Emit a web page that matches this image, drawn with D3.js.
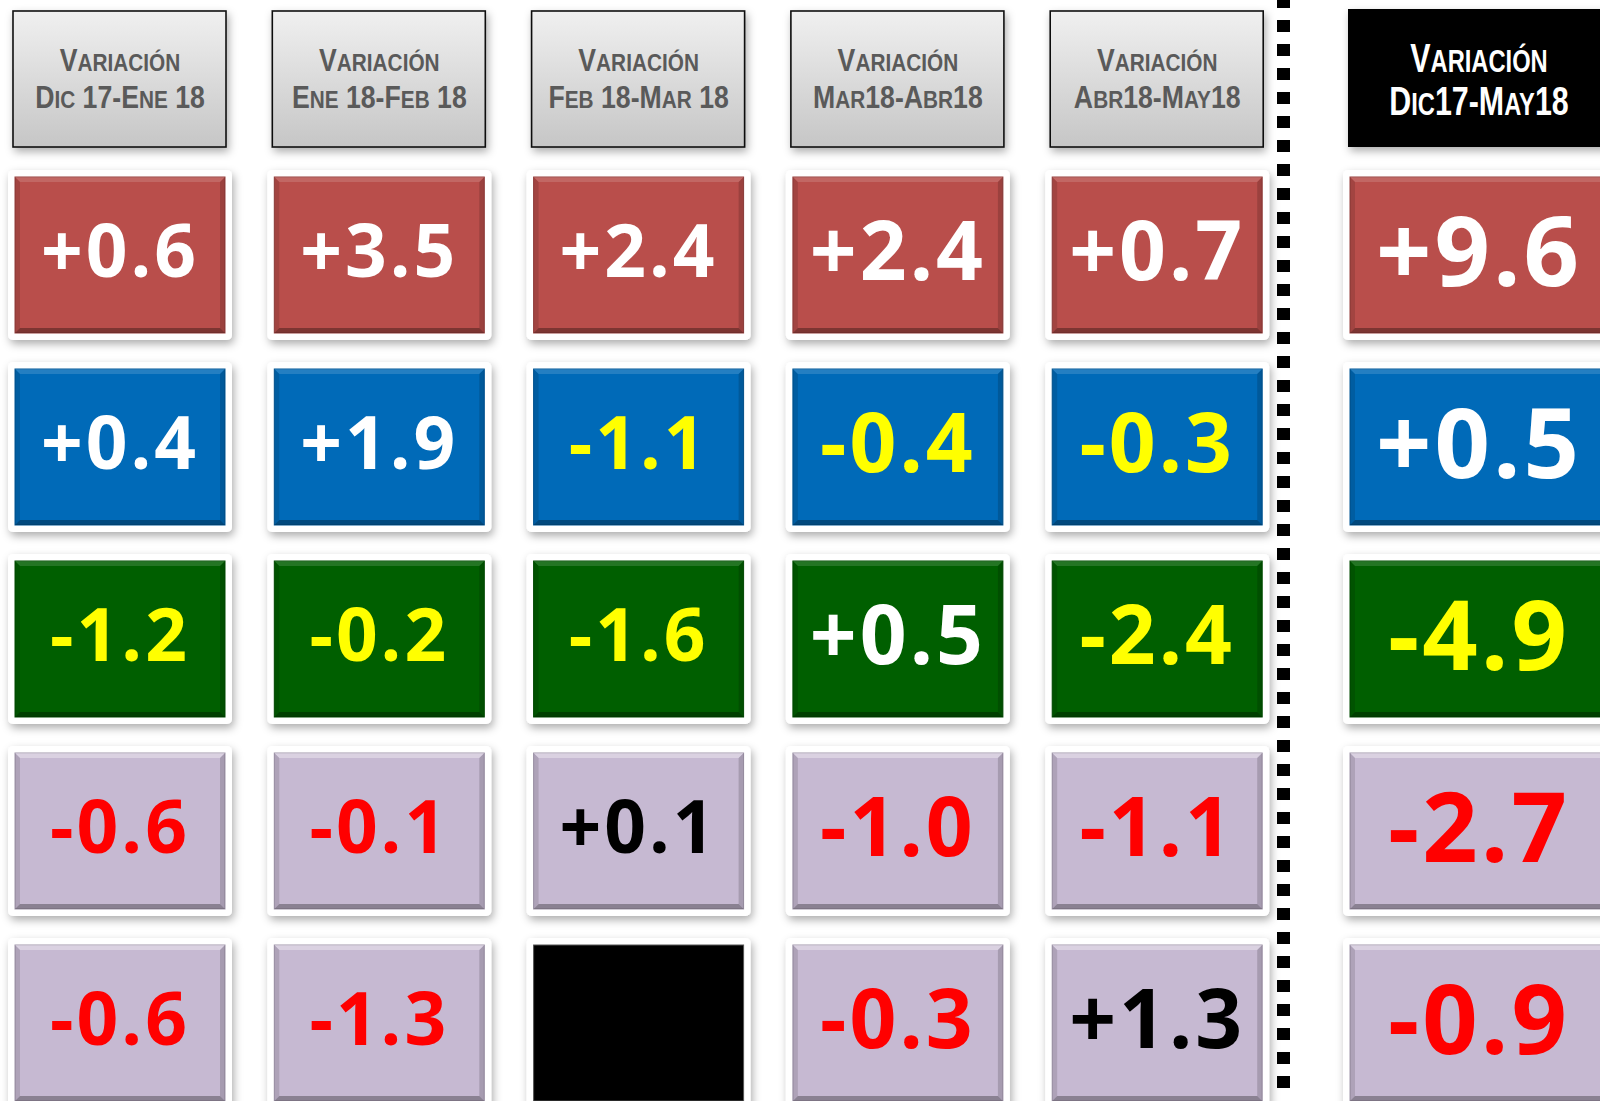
<html>
  <head>
    <meta charset="utf-8" />
    <title>Variaciones</title>
    <script src="https://d3js.org/d3.v7.min.js"></script>
    <style>
      body {
        margin: 0;
        background: #ffffff;
      }
    </style>
  </head>
  <body>
    <svg id="chart"></svg>
    <script>

      // periods (column headers) and the total column
      var periods = ["Dic 17-Ene 18", "Ene 18-Feb 18", "Feb 18-Mar 18", "Mar18-Abr18", "Abr18-May18"];
      var totalLabel = "Dic17-May18";
      var headerWord = "Variación";

      // one array per row, one value per period (null = no data)
      var rowIds = ["r1", "r2", "r3", "r4", "r5"];
      var row1 = [0.6, 3.5, 2.4, 2.4, 0.7];
      var row2 = [0.4, 1.9, -1.1, -0.4, -0.3];
      var row3 = [-1.2, -0.2, -1.6, 0.5, -2.4];
      var row4 = [-0.6, -0.1, 0.1, -1.0, -1.1];
      var row5 = [-0.6, -1.3, null, -0.3, 1.3];
      var totals = [9.6, 0.5, -4.9, -2.7, -0.9];

      var rows = [row1, row2, row3, row4, row5];

      // styles
      var rowFill = ["#b94e4b", "#006ab8", "#005f00", "#c6b9d2", "#c6b9d2"];
      var rowLight = [false, false, false, true, true];
      var colFont = [73, 73, 73, 82, 82];
      var totalFont = 97;

      var width = 1600;
      var height = 1101;

      var svg = d3.select("#chart")
        .attr("width", width)
        .attr("height", height)
        .style("display", "block");

      var defs = svg.append("defs");

      var shadow = defs.append("filter")
        .attr("id", "shadow")
        .attr("x", "-20%").attr("y", "-20%")
        .attr("width", "150%").attr("height", "150%");
      shadow.append("feDropShadow")
        .attr("dx", 2).attr("dy", 4)
        .attr("stdDeviation", 4)
        .attr("flood-color", "#000")
        .attr("flood-opacity", 0.32);

      var grad = defs.append("linearGradient")
        .attr("id", "headGrad")
        .attr("x1", 0).attr("y1", 0).attr("x2", 0).attr("y2", 1);
      grad.append("stop").attr("offset", "0%").attr("stop-color", "#f0f0f0");
      grad.append("stop").attr("offset", "100%").attr("stop-color", "#c6c6c6");

      var fmt = d3.formatLocale({
        decimal: ".", thousands: ",", grouping: [3], currency: ["", ""], minus: "-"
      }).format("+.1f");

      // scales
      var step = 259.3;
      var cardW = 224;
      var x = d3.scaleBand()
        .domain(periods)
        .range([8, 8 + 4 * step + cardW])
        .paddingInner((step - cardW) / step)
        .paddingOuter(0);

      var xTotal = d3.scaleBand()
        .domain([totalLabel])
        .range([1343, 1615]);

      var y = d3.scaleBand()
        .domain(rowIds)
        .range([170, 1108])
        .paddingInner(22 / 192)
        .paddingOuter(0);

      var inset = 7;
      var bevel = 5;

      function textColor(r, v) {
        if (rowLight[r]) return v < 0 ? "#ff0000" : "#000000";
        return v < 0 ? "#ffff00" : "#ffffff";
      }

      // small caps built with tspans: lowercase runs are upper-cased and shrunk
      function smallCaps(text, str, fs) {
        var runs = [];
        str.split("").forEach(function(ch) {
          var low = ch !== ch.toUpperCase();
          var last = runs[runs.length - 1];
          if (last && last.low === low) last.s += ch;
          else runs.push({ low: low, s: ch });
        });
        text.selectAll("tspan")
          .data(runs)
          .enter().append("tspan")
          .attr("font-size", function(d) { return d.low ? fs * 0.78 : fs; })
          .text(function(d) { return d.low ? d.s.toUpperCase() : d.s; });
      }

      // dotted separator
      svg.append("line")
        .attr("x1", 1283.5).attr("x2", 1283.5)
        .attr("y1", -4).attr("y2", 1090)
        .attr("stroke", "#000")
        .attr("stroke-width", 13)
        .attr("stroke-dasharray", "12 12");

      // headers
      var heads = svg.append("g").selectAll("g.head")
        .data(periods)
        .enter().append("g")
        .attr("class", "head");

      heads.append("rect")
        .attr("x", function(d) { return x(d) + 5; })
        .attr("y", 11)
        .attr("width", x.bandwidth() - 11)
        .attr("height", 136)
        .attr("fill", "url(#headGrad)")
        .attr("stroke", "#111")
        .attr("stroke-width", 1.6)
        .attr("filter", "url(#shadow)");

      heads.each(function(d) {
        var g = d3.select(this);
        var cx = x(d) + x.bandwidth() / 2;
        [headerWord, d].forEach(function(line, i) {
          var t = g.append("text")
            .attr("transform", "translate(" + cx + "," + (71 + i * 36.5) + ") scale(0.86,1)")
            .attr("text-anchor", "middle")
            .attr("font-family", "'Liberation Sans', Arial, sans-serif")
            .attr("font-weight", "bold")
            .attr("fill", "#5a5a5a");
          smallCaps(t, line, 31);
        });
      });

      var totalHead = svg.append("g");
      totalHead.append("rect")
        .attr("x", xTotal(totalLabel) + 5)
        .attr("y", 9)
        .attr("width", xTotal.bandwidth())
        .attr("height", 138)
        .attr("fill", "#000")
        .attr("filter", "url(#shadow)");
      [headerWord, totalLabel].forEach(function(line, i) {
        var t = totalHead.append("text")
          .attr("transform", "translate(" + (xTotal(totalLabel) + xTotal.bandwidth() / 2) + "," + (72 + i * 43) + ") scale(0.76,1)")
          .attr("text-anchor", "middle")
          .attr("font-family", "'Liberation Sans', Arial, sans-serif")
          .attr("font-weight", "bold")
          .attr("fill", "#fff");
        smallCaps(t, line, 40);
      });

      // cells
      var cells = [];
      rows.forEach(function(vals, r) {
        vals.forEach(function(v, c) {
          cells.push({ r: r, v: v, x0: x(periods[c]), w: x.bandwidth(), fs: colFont[c] });
        });
        cells.push({ r: r, v: totals[r], x0: xTotal(totalLabel), w: xTotal.bandwidth(), fs: totalFont });
      });

      var cell = svg.append("g").selectAll("g.cell")
        .data(cells)
        .enter().append("g")
        .attr("class", "cell")
        .attr("transform", function(d) {
          return "translate(" + d.x0 + "," + y(rowIds[d.r]) + ")";
        });

      var h = y.bandwidth();

      cell.append("rect")
        .attr("width", function(d) { return d.w; })
        .attr("height", h)
        .attr("rx", 5)
        .attr("fill", "#fff")
        .attr("filter", "url(#shadow)");

      cell.append("rect")
        .attr("x", inset).attr("y", inset)
        .attr("width", function(d) { return d.w - 2 * inset; })
        .attr("height", h - 2 * inset)
        .attr("fill", function(d) { return d.v === null ? "#000" : rowFill[d.r]; })
        .attr("stroke", function(d) { return d.v === null ? "#555" : d3.color(rowFill[d.r]).darker(0.6); })
        .attr("stroke-width", 1);

      // bevel edges
      var withValue = cell.filter(function(d) { return d.v !== null; });
      var bevelSides = [
        { name: "top", color: "#fff", op: function(d) { return rowLight[d.r] ? 0.35 : 0.14; } },
        { name: "left", color: "#000", op: function() { return 0.12; } },
        { name: "right", color: "#000", op: function() { return 0.16; } },
        { name: "bottom", color: "#000", op: function(d) { return rowLight[d.r] ? 0.3 : 0.32; } }
      ];
      bevelSides.forEach(function(s) {
        withValue.append("polygon")
          .attr("points", function(d) {
            var x0 = inset, x1 = d.w - inset, y0 = inset, y1 = h - inset, b = bevel;
            var p;
            if (s.name === "top") p = [[x0, y0], [x1, y0], [x1 - b, y0 + b], [x0 + b, y0 + b]];
            if (s.name === "bottom") p = [[x0, y1], [x1, y1], [x1 - b, y1 - b], [x0 + b, y1 - b]];
            if (s.name === "left") p = [[x0, y0], [x0 + b, y0 + b], [x0 + b, y1 - b], [x0, y1]];
            if (s.name === "right") p = [[x1, y0], [x1 - b, y0 + b], [x1 - b, y1 - b], [x1, y1]];
            return p.join(" ");
          })
          .attr("fill", s.color)
          .attr("fill-opacity", s.op);
      });

      withValue.append("text")
        .attr("x", function(d) { return d.w / 2; })
        .attr("y", function(d) { return h / 2 - 4 + d.fs * 0.714 / 2; })
        .attr("text-anchor", "middle")
        .attr("font-family", "'Open Sans', 'Noto Sans', sans-serif")
        .attr("font-weight", "bold")
        .attr("font-size", function(d) { return d.fs; })
        .attr("letter-spacing", 3)
        .attr("fill", function(d) { return textColor(d.r, d.v); })
        .text(function(d) { return fmt(d.v); });

    </script>
  </body>
</html>
